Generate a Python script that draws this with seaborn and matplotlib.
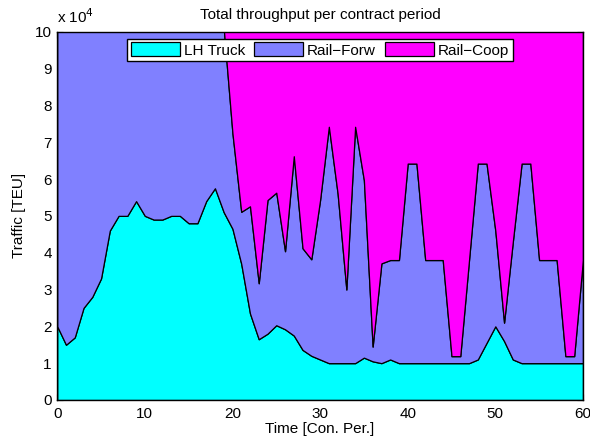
import matplotlib
matplotlib.use("Agg")

import numpy as np
import matplotlib.pyplot as plt
import seaborn as sns
from matplotlib.ticker import FuncFormatter

# contract periods 0..60
periods = list(range(0, 61))

# traffic per mode, in units of 10^4 TEU
lh_truck = [
    2.0, 1.5, 1.7, 2.5, 2.8, 3.3, 4.6, 5.0, 5.0, 5.4,
    5.0, 4.9, 4.9, 5.0, 5.0, 4.8, 4.8, 5.4, 5.75, 5.1,
    4.65, 3.7, 2.35, 1.65, 1.8, 2.03, 1.92, 1.75, 1.36, 1.2,
    1.1, 1.0, 1.0, 1.0, 1.0, 1.15, 1.05, 1.0, 1.1, 1.0,
    1.0, 1.0, 1.0, 1.0, 1.0, 1.0, 1.0, 1.0, 1.1, 1.55,
    2.0, 1.6, 1.1, 1.0, 1.0, 1.0, 1.0, 1.0, 1.0, 1.0,
    1.0,
]
rail_forw = [
    10.0, 10.5, 10.3, 9.5, 9.2, 8.7, 7.4, 7.0, 7.0, 6.6,
    7.0, 7.1, 7.1, 7.0, 7.0, 7.2, 7.2, 6.6, 6.25, 5.0,
    2.59, 1.41, 2.91, 1.52, 3.63, 3.6, 2.12, 4.87, 2.76, 2.62,
    4.33, 6.42, 4.61, 2.0, 6.42, 4.82, 0.4, 2.71, 2.7, 2.8,
    5.42, 5.42, 2.8, 2.8, 2.8, 0.19, 0.19, 2.8, 5.32, 4.87,
    2.6, 0.5, 3.2, 5.42, 5.42, 2.8, 2.8, 2.8, 0.19, 0.19,
    2.8,
]
rail_coop = [
    0.0, 0.0, 0.0, 0.0, 0.0, 0.0, 0.0, 0.0, 0.0, 0.0,
    0.0, 0.0, 0.0, 0.0, 0.0, 0.0, 0.0, 0.0, 0.0, 1.9,
    4.76, 6.89, 6.74, 8.83, 6.57, 6.37, 7.96, 5.38, 7.88, 8.18,
    6.57, 4.58, 6.39, 9.0, 4.58, 6.03, 10.55, 8.29, 8.2, 8.2,
    5.58, 5.58, 8.2, 8.2, 8.2, 10.81, 10.81, 8.2, 5.58, 5.58,
    7.4, 9.9, 7.7, 5.58, 5.58, 8.2, 8.2, 8.2, 10.81, 10.81,
    8.2,
]
series_names = ["LH Truck", "Rail\u2212Forw", "Rail\u2212Coop"]
series_colors = ["#00FFFF", "#8080FF", "#FF00FF"]
SCALE = 1e4
FS = 11

sns.set_theme(style="white")
plt.rcParams["font.family"] = ["Liberation Sans", "DejaVu Sans"]
plt.rcParams["text.color"] = "black"
plt.rcParams["axes.labelcolor"] = "black"
plt.rcParams["xtick.color"] = "black"
plt.rcParams["ytick.color"] = "black"

fig = plt.figure(figsize=(5.9, 4.41), dpi=100)
ax = fig.add_axes([0.097, 0.093, 0.891, 0.835])

ys = [np.array(s) * SCALE for s in (lh_truck, rail_forw, rail_coop)]
ax.stackplot(periods, *ys, labels=series_names, colors=series_colors,
             edgecolor="black", linewidth=0.9)

ax.set_xlim(0, 60)
ax.set_ylim(0, 10 * SCALE)
ax.set_xticks(range(0, 61, 10))
ax.set_yticks(np.arange(0, 11) * SCALE)
ax.yaxis.set_major_formatter(FuncFormatter(lambda v, p: f"{v / SCALE:g}"))
ax.tick_params(direction="in", length=4, width=0.8, labelsize=FS,
               top=True, right=True, bottom=True, left=True)
ax.tick_params(axis="x", pad=5)
ax.tick_params(axis="y", pad=4)
for sp in ax.spines.values():
    sp.set_color("black")
    sp.set_linewidth(1.0)

ax.text(0, 1.015, r"x 10$^{4}$", transform=ax.transAxes, fontsize=FS,
        ha="left", va="bottom")
ax.set_title("Total throughput per contract period", fontsize=FS, pad=9)
ax.set_xlabel("Time [Con. Per.]", fontsize=FS, labelpad=1)
ax.set_ylabel("Traffic [TEU]", fontsize=FS, labelpad=6)

leg = ax.legend(loc="upper center", ncol=3, fontsize=FS, frameon=True,
                fancybox=False, edgecolor="black", framealpha=1,
                handlelength=3.2, handleheight=1.0, handletextpad=0.25,
                columnspacing=0.6, borderpad=0.25, borderaxespad=0.45)
leg.get_frame().set_linewidth(1.0)

fig.savefig("out.png", dpi=100)
